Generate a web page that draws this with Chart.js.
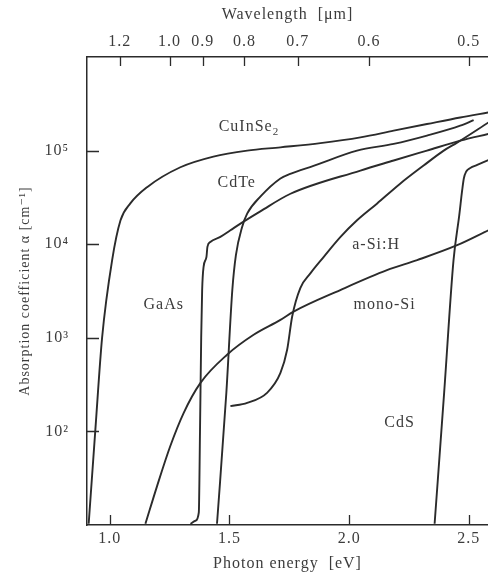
<!DOCTYPE html>
<html>
<head>
<meta charset="utf-8">
<script src="https://cdn.jsdelivr.net/npm/chart.js@4/dist/chart.umd.min.js"></script>
<style>
  html, body { margin: 0; padding: 0; background: #ffffff; }
  canvas { display: block; }
</style>
</head>
<body>
<canvas id="chart" width="488" height="574"></canvas>
<script>
// ---------------- data ----------------
const ENERGY_MIN = 0.905;   // eV, left edge of the plot
const ENERGY_MAX = 2.58;    // eV, right edge (figure is cropped there)
const ALPHA_MIN = 10;       // cm^-1
const ALPHA_MAX = 1e6;      // cm^-1
const HC = 1.25;            // eV·µm conversion used by the figure's top axis

const X_TICKS = [1.0, 1.5, 2.0, 2.5];
const WAVELENGTH_TICKS = [1.2, 1.0, 0.9, 0.8, 0.7, 0.6, 0.5];
const Y_TICKS = [1e2, 1e3, 1e4, 1e5];

const CUINSE2_E     = [0.912, 0.940, 0.968, 1.010, 1.045, 1.086, 1.156, 1.295, 1.433, 1.574, 1.713, 1.880, 2.047, 2.186, 2.325, 2.464, 2.582];
const CUINSE2_ALPHA = [10.3, 105, 1000, 6760, 18000, 27300, 40700, 66400, 86300, 100000, 108400, 120200, 138400, 163300, 192300, 226000, 255300];

const CDTE_E     = [1.448, 1.487, 1.512, 1.527, 1.553, 1.574, 1.630, 1.713, 1.754, 1.851, 2.033, 2.186, 2.325, 2.464, 2.520];
const CDTE_ALPHA = [10.3, 257, 3240, 7640, 15300, 21200, 32400, 50400, 56500, 68700, 100000, 117800, 144500, 184500, 211800];

const GAAS_E     = [1.337, 1.358, 1.372, 1.377, 1.382, 1.386, 1.392, 1.404, 1.408, 1.420, 1.462, 1.504, 1.546, 1.629, 1.755, 2.047, 2.186, 2.325, 2.464, 2.582];
const GAAS_ALPHA = [10.3, 11.1, 13.6, 100, 1000, 3240, 5740, 7330, 9350, 10570, 11970, 14090, 16600, 22440, 34590, 61240, 78340, 100000, 127600, 150700];

const ASIH_E     = [1.504, 1.574, 1.657, 1.713, 1.741, 1.762, 1.796, 1.838, 1.894, 1.964, 2.033, 2.116, 2.213, 2.311, 2.395, 2.451, 2.582];
const ASIH_ALPHA = [186, 202, 258, 421, 745, 1690, 3400, 4880, 7330, 11970, 18000, 27100, 44300, 69200, 100000, 121600, 200000];

const MONOSI_E     = [1.149, 1.198, 1.253, 1.309, 1.379, 1.490, 1.601, 1.713, 1.768, 1.963, 2.158, 2.284, 2.451, 2.582];
const MONOSI_ALPHA = [10.3, 26.2, 69.8, 158, 330, 659, 1076, 1552, 1905, 3240, 5280, 6760, 9750, 14090];

const CDS_E     = [2.357, 2.397, 2.436, 2.460, 2.472, 2.479, 2.489, 2.506, 2.535, 2.582];
const CDS_ALPHA = [10.3, 263, 6760, 20400, 37500, 50400, 59800, 65200, 70200, 79300];

// curve labels (text, and where each one sits in data space: energy / alpha)
const LABEL_TEXT  = ['CuInSe_2', 'CdTe', 'GaAs', 'a-Si:H', 'mono-Si', 'CdS'];
const LABEL_E     = [1.455, 1.450, 1.141, 2.013, 2.018, 2.147];
const LABEL_ALPHA = [179900, 45700, 2245, 9750, 2245, 125];

// ---------------- styling ----------------
const FONT = '"Liberation Serif", "Times New Roman", "DejaVu Serif", serif';
const INK = '#2b2b2b';
const TEXT = '#3c3c3c';
const SPACING = '1px';

const SUP = { '0': '⁰', '1': '¹', '2': '²', '3': '³', '4': '⁴', '5': '⁵', '6': '⁶' };

function pairs(es, as) { return es.map((e, i) => ({ x: e, y: as[i] })); }

const SERIES = [
  ['CuInSe2', CUINSE2_E, CUINSE2_ALPHA],
  ['CdTe', CDTE_E, CDTE_ALPHA],
  ['GaAs', GAAS_E, GAAS_ALPHA],
  ['a-Si:H', ASIH_E, ASIH_ALPHA],
  ['mono-Si', MONOSI_E, MONOSI_ALPHA],
  ['CdS', CDS_E, CDS_ALPHA]
];

const datasets = SERIES.map(([name, e, a]) => ({
  label: name,
  data: pairs(e, a),
  showLine: true,
  borderColor: INK,
  borderWidth: 1.9,
  pointRadius: 0,
  pointHoverRadius: 0,
  cubicInterpolationMode: 'monotone',
  fill: false
}));

const letterSpacing = {
  id: 'letterSpacing',
  beforeLayout(chart) { chart.ctx.letterSpacing = SPACING; },
  beforeDraw(chart) { chart.ctx.letterSpacing = SPACING; }
};

const inwardTicks = {
  id: 'inwardTicks',
  afterDatasetsDraw(chart) {
    const { ctx, chartArea: a, scales } = chart;
    ctx.save();
    ctx.strokeStyle = INK;
    ctx.lineWidth = 1.3;
    ctx.beginPath();
    scales.x.ticks.forEach(t => {
      const p = Math.round(scales.x.getPixelForValue(t.value)) + 0.5;
      ctx.moveTo(p, a.bottom); ctx.lineTo(p, a.bottom - 10);
    });
    scales.xTop.ticks.forEach(t => {
      const p = Math.round(scales.xTop.getPixelForValue(t.value)) + 0.5;
      ctx.moveTo(p, a.top); ctx.lineTo(p, a.top + 9);
    });
    scales.y.ticks.forEach(t => {
      const p = Math.round(scales.y.getPixelForValue(t.value)) + 0.5;
      ctx.moveTo(a.left, p); ctx.lineTo(a.left + 12, p);
    });
    ctx.stroke();
    ctx.restore();
  }
};

const curveLabels = {
  id: 'curveLabels',
  afterDatasetsDraw(chart) {
    const { ctx, scales: { x, y } } = chart;
    ctx.save();
    ctx.fillStyle = TEXT;
    ctx.textAlign = 'left';
    ctx.textBaseline = 'middle';
    ctx.letterSpacing = SPACING;
    LABEL_TEXT.forEach((txt, i) => {
      const px = x.getPixelForValue(LABEL_E[i]);
      const py = y.getPixelForValue(LABEL_ALPHA[i]);
      const [main, sub] = txt.split('_');
      ctx.font = '16px ' + FONT;
      ctx.fillText(main, px, py);
      if (sub) {
        const w = ctx.measureText(main).width;
        ctx.font = '11px ' + FONT;
        ctx.fillText(sub, px + w, py + 5);
      }
    });
    ctx.restore();
  }
};

const tickFont = { family: FONT, size: 16 };
const titleFont = { family: FONT, size: 16 };

new Chart(document.getElementById('chart'), {
  type: 'scatter',
  data: { datasets },
  options: {
    responsive: false,
    animation: false,
    devicePixelRatio: 1,
    layout: { padding: 0 },
    plugins: { legend: { display: false }, tooltip: { enabled: false } },
    scales: {
      x: {
        type: 'linear',
        position: 'bottom',
        min: ENERGY_MIN,
        max: ENERGY_MAX,
        afterBuildTicks: s => { s.ticks = X_TICKS.map(v => ({ value: v })); },
        afterFit: s => { s.height = 49; },
        ticks: { autoSkip: false, maxRotation: 0, padding: 4, color: TEXT, font: tickFont,
                 callback: v => Number(v).toFixed(1) },
        grid: { display: false, drawTicks: false },
        border: { display: true, color: INK, width: 1.5 },
        title: { display: true, text: 'Photon energy  [eV]', color: TEXT, font: titleFont, padding: { top: 0, bottom: 1 } }
      },
      xTop: {
        type: 'linear',
        position: 'top',
        min: ENERGY_MIN,
        max: ENERGY_MAX,
        afterBuildTicks: s => { s.ticks = WAVELENGTH_TICKS.map(l => ({ value: HC / l })); },
        afterFit: s => { s.height = 57; },
        ticks: { autoSkip: false, maxRotation: 0, padding: 6, color: TEXT, font: tickFont,
                 callback: v => (HC / v).toFixed(1) },
        grid: { display: false, drawTicks: false },
        border: { display: true, color: INK, width: 1.5 },
        title: { display: true, text: 'Wavelength  [μm]', color: TEXT, font: titleFont, padding: { top: 5, bottom: 0 } }
      },
      y: {
        type: 'logarithmic',
        position: 'left',
        min: ALPHA_MIN,
        max: ALPHA_MAX,
        afterBuildTicks: s => { s.ticks = Y_TICKS.map(v => ({ value: v })); },
        afterFit: s => { s.width = 87; },
        ticks: { autoSkip: false, padding: 18, color: TEXT, font: tickFont,
                 callback: v => '10' + String(Math.round(Math.log10(v))).split('').map(c => SUP[c]).join('') },
        grid: { display: false, drawTicks: false },
        border: { display: true, color: INK, width: 1.5 },
        title: { display: true, text: 'Absorption coefficient α [cm⁻¹]', color: TEXT, font: { family: FONT, size: 14 }, padding: { top: 17, bottom: 0 } }
      }
    }
  },
  plugins: [letterSpacing, inwardTicks, curveLabels]
});
</script>
</body>
</html>
